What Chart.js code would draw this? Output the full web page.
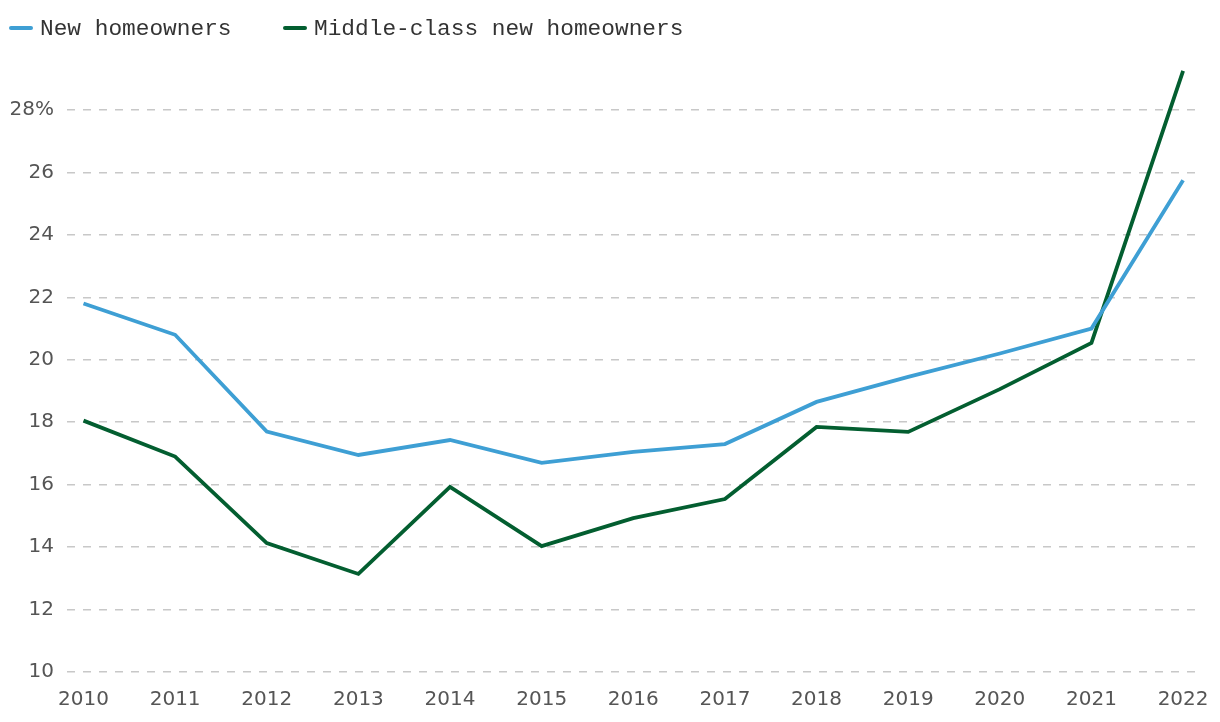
<!DOCTYPE html>
<html>
<head>
<meta charset="utf-8">
<script src="https://cdn.jsdelivr.net/npm/chart.js@4"></script>
<style>
  html, body { margin: 0; padding: 0; background: #fff; }
  #wrap { width: 1220px; height: 722px; }
</style>
</head>
<body>
<div id="wrap"><canvas id="homeChart"></canvas></div>
<script>
// data
var years = [2010, 2011, 2012, 2013, 2014, 2015, 2016, 2017, 2018, 2019, 2020, 2021, 2022];
var newOwners = [21.8, 20.8, 17.7, 16.95, 17.43, 16.7, 17.05, 17.3, 18.65, 19.45, 20.2, 21.0, 25.75];
var middleClass = [18.05, 16.9, 14.13, 13.14, 15.93, 14.03, 14.93, 15.54, 17.85, 17.69, 19.06, 20.54, 29.25];
var yTicks = [10, 12, 14, 16, 18, 20, 22, 24, 26, 28];

function pts(vals) {
    return years.map(function (y, i) { return { x: y, y: vals[i] }; });
}

// legend drawn by hand so it can sit flush with the left edge
var topLegend = {
    id: 'topLegend',
    afterDraw: function (chart) {
        var c = chart.ctx;
        var starts = [9, 283];
        c.save();
        c.font = '22.8px "Liberation Mono"';
        c.textBaseline = 'middle';
        chart.data.datasets.forEach(function (ds, i) {
            var x = starts[i];
            c.fillStyle = ds.borderColor;
            c.beginPath();
            c.roundRect(x, 26, 24, 4, 2);
            c.fill();
            c.fillStyle = '#333';
            c.fillText(ds.label, x + 31, 29);
        });
        c.restore();
    }
};

var ctx = document.getElementById('homeChart').getContext('2d');
var homeChart = new Chart(ctx, {
    type: 'line',
    data: {
        datasets: [
            {
                label: 'New homeowners',
                data: pts(newOwners),
                borderColor: '#3e9fd4',
                borderWidth: 3.8,
                pointRadius: 0,
                tension: 0
            },
            {
                label: 'Middle-class new homeowners',
                data: pts(middleClass),
                borderColor: '#035e30',
                borderWidth: 3.8,
                pointRadius: 0,
                tension: 0
            }
        ]
    },
    plugins: [topLegend],
    options: {
        responsive: true,
        maintainAspectRatio: false,
        animation: false,
        layout: { padding: { top: 60, right: 25, left: 0, bottom: 0 } },
        plugins: {
            tooltip: { enabled: false },
            legend: { display: false }
        },
        scales: {
            x: {
                type: 'linear',
                min: 2009.82,
                max: 2022.13,
                grid: { display: false },
                border: { display: false },
                afterBuildTicks: function (axis) {
                    axis.ticks = years.map(function (y) { return { value: y }; });
                },
                afterFit: function (axis) { axis.height = 50; },
                ticks: {
                    padding: 8,
                    color: '#555',
                    font: { family: 'DejaVu Sans', size: 20 },
                    callback: function (v) { return String(v); }
                }
            },
            y: {
                min: 10,
                max: 29.6,
                grid: {
                    color: '#c8c8c8',
                    lineWidth: 1.5,
                    drawTicks: false
                },
                border: { display: false, dash: [8, 8] },
                afterBuildTicks: function (axis) {
                    axis.ticks = yTicks.map(function (v) { return { value: v }; });
                },
                afterFit: function (axis) { axis.width = 67; },
                ticks: {
                    padding: 13,
                    color: '#555',
                    font: { family: 'DejaVu Sans', size: 20 },
                    callback: function (v) { return v === 28 ? '28%' : String(v); }
                }
            }
        }
    }
});
</script>
</body>
</html>
